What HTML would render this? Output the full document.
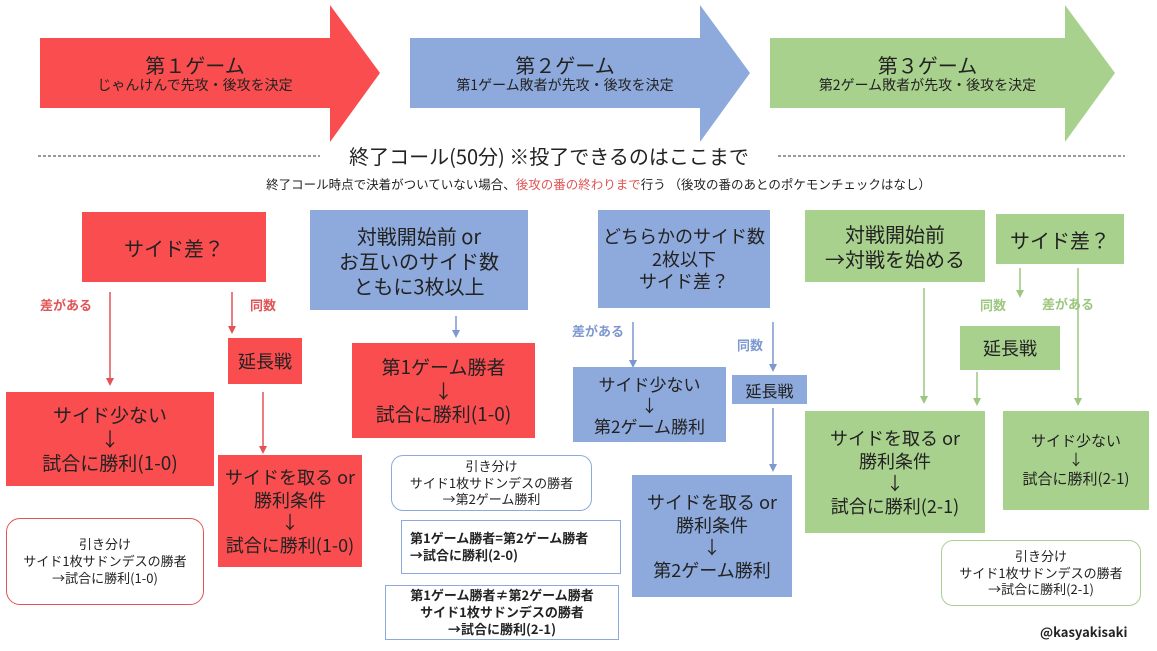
<!DOCTYPE html><html><head><meta charset="utf-8"><style>
body{margin:0;width:1157px;height:651px;background:#fff;position:relative;overflow:hidden;font-family:"Noto Sans CJK JP","Liberation Sans",sans-serif;color:#222}
.b{position:absolute;display:flex;align-items:center;justify-content:center;text-align:center;box-sizing:border-box;line-height:1.25}
.r{background:#fa4d4f}.u{background:#8ea9db}.g{background:#a9d18e}
.o{border:1.5px solid;background:#fff;font-size:13px;line-height:1.3}
.t{position:absolute;font-size:13px;font-weight:bold}
svg{position:absolute;left:0;top:0}
</style></head><body>
<svg width="1157" height="651">
<polygon points="40,38 330,38 330,5 380,73 330,142 330,108 40,108" fill="#fa4d4f"/>
<polygon points="410,38 700,38 700,5 750,73 700,142 700,108 410,108" fill="#8ea9db"/>
<polygon points="770,38 1065,38 1065,5 1115,73 1065,142 1065,108 770,108" fill="#a9d18e"/>
<line x1="38" y1="156" x2="320" y2="156" stroke="#333" stroke-dasharray="3,2"/>
<line x1="778" y1="156" x2="1125" y2="156" stroke="#333" stroke-dasharray="3,2"/>
<g stroke="#e05456" stroke-width="1.5">
<line x1="110" y1="292" x2="110" y2="380"/><line x1="232" y1="292" x2="232" y2="328"/><line x1="263" y1="392" x2="263" y2="448"/></g>
<g fill="#e05456"><polygon points="106,378 114,378 110,386"/><polygon points="228,326 236,326 232,334"/><polygon points="259,446 267,446 263,454"/></g>
<g stroke="#7d97cf" stroke-width="1.5">
<line x1="456" y1="316" x2="456" y2="332"/><line x1="633" y1="322" x2="633" y2="362"/><line x1="773" y1="322" x2="773" y2="366"/><line x1="773" y1="408" x2="773" y2="466"/></g>
<g fill="#7d97cf"><polygon points="452,330 460,330 456,338"/><polygon points="629,360 637,360 633,368"/><polygon points="769,364 777,364 773,372"/><polygon points="769,464 777,464 773,472"/></g>
<g stroke="#9cc77f" stroke-width="1.5">
<line x1="924" y1="288" x2="924" y2="398"/><line x1="1020" y1="268" x2="1020" y2="292"/><line x1="1078" y1="268" x2="1078" y2="400"/><line x1="977" y1="372" x2="977" y2="400"/></g>
<g fill="#9cc77f"><polygon points="920,396 928,396 924,404"/><polygon points="1016,290 1024,290 1020,298"/><polygon points="1074,398 1082,398 1078,406"/><polygon points="973,398 981,398 977,406"/></g>
</svg>
<div class="b" style="left:40px;top:38px;width:310px;height:70px;flex-direction:column"><div style="font-size:20px">第１ゲーム</div><div style="font-size:14px">じゃんけんで先攻・後攻を決定</div></div>
<div class="b" style="left:410px;top:38px;width:310px;height:70px;flex-direction:column"><div style="font-size:20px">第２ゲーム</div><div style="font-size:14px">第1ゲーム敗者が先攻・後攻を決定</div></div>
<div class="b" style="left:770px;top:38px;width:315px;height:70px;flex-direction:column"><div style="font-size:20px">第３ゲーム</div><div style="font-size:14px">第2ゲーム敗者が先攻・後攻を決定</div></div>
<div style="position:absolute;left:320px;top:144px;width:458px;text-align:center;font-size:20px;line-height:1.2">終了コール(50分) ※投了できるのはここまで</div>
<div style="position:absolute;left:0;top:176px;width:1157px;text-align:center;font-size:12.5px;line-height:1.3;padding-left:40px;box-sizing:border-box">終了コール時点で決着がついていない場合、<span style="color:#e05456">後攻の番の終わりまで</span>行う （後攻の番のあとのポケモンチェックはなし）</div>
<div class="b r" style="left:82px;top:212px;width:184px;height:70px;font-size:20px">サイド差？</div>
<div class="b u" style="left:310px;top:210px;width:218px;height:100px;font-size:20px">対戦開始前 or<br>お互いのサイド数<br>ともに3枚以上</div>
<div class="b u" style="left:598px;top:210px;width:172px;height:98px;font-size:18px">どちらかのサイド数<br>2枚以下<br>サイド差？</div>
<div class="b g" style="left:805px;top:210px;width:180px;height:72px;font-size:20px">対戦開始前<br>→対戦を始める</div>
<div class="b g" style="left:996px;top:214px;width:128px;height:50px;font-size:20px">サイド差？</div>
<div class="t" style="left:40px;top:295px;color:#e05456">差がある</div>
<div class="t" style="left:250px;top:295px;color:#e05456">同数</div>
<div class="t" style="left:572px;top:321px;color:#7d97cf">差がある</div>
<div class="t" style="left:737px;top:335px;color:#7d97cf">同数</div>
<div class="t" style="left:980px;top:295px;color:#9cc77f">同数</div>
<div class="t" style="left:1042px;top:294px;color:#9cc77f">差がある</div>
<div class="b r" style="left:228px;top:338px;width:74px;height:46px;font-size:18px">延長戦</div>
<div class="b r" style="left:352px;top:343px;width:183px;height:95px;font-size:19px">第1ゲーム勝者<br>↓<br>試合に勝利(1-0)</div>
<div class="b r" style="left:6px;top:392px;width:208px;height:94px;font-size:19px">サイド少ない<br>↓<br>試合に勝利(1-0)</div>
<div class="b r" style="left:218px;top:455px;width:144px;height:112px;font-size:18px">サイドを取る or<br>勝利条件<br>↓<br>試合に勝利(1-0)</div>
<div class="b o" style="left:6px;top:518px;width:198px;height:87px;border-color:#e05456;border-radius:14px">引き分け<br>サイド1枚サドンデスの勝者<br>→試合に勝利(1-0)</div>
<div class="b u" style="left:573px;top:367px;width:153px;height:75px;font-size:17px">サイド少ない<br>↓<br>第2ゲーム勝利</div>
<div class="b u" style="left:732px;top:375px;width:75px;height:29px;font-size:16px">延長戦</div>
<div class="b u" style="left:632px;top:475px;width:160px;height:122px;font-size:18px">サイドを取る or<br>勝利条件<br>↓<br>第2ゲーム勝利</div>
<div class="b o" style="left:391px;top:455px;width:201px;height:56px;border-color:#8ea9db;border-radius:12px">引き分け<br>サイド1枚サドンデスの勝者<br>→第2ゲーム勝利</div>
<div class="b o" style="left:401px;top:520px;width:220px;height:54px;border-color:#8ea9db;font-weight:bold;text-align:left;justify-content:flex-start;padding-left:8px">第1ゲーム勝者=第2ゲーム勝者<br>→試合に勝利(2-0)</div>
<div class="b o" style="left:385px;top:585px;width:234px;height:55px;border-color:#8ea9db;font-weight:bold">第1ゲーム勝者≠第2ゲーム勝者<br>サイド1枚サドンデスの勝者<br>→試合に勝利(2-1)</div>
<div class="b g" style="left:960px;top:326px;width:100px;height:44px;font-size:18px">延長戦</div>
<div class="b g" style="left:805px;top:411px;width:180px;height:122px;font-size:18px">サイドを取る or<br>勝利条件<br>↓<br>試合に勝利(2-1)</div>
<div class="b g" style="left:1003px;top:411px;width:146px;height:99px;font-size:15px">サイド少ない<br>↓<br>試合に勝利(2-1)</div>
<div class="b o" style="left:941px;top:540px;width:200px;height:66px;border-color:#a9d18e;border-radius:12px">引き分け<br>サイド1枚サドンデスの勝者<br>→試合に勝利(2-1)</div>
<div style="position:absolute;left:1040px;top:622px;font-size:13px;font-weight:bold">@kasyakisaki</div>
</body></html>
